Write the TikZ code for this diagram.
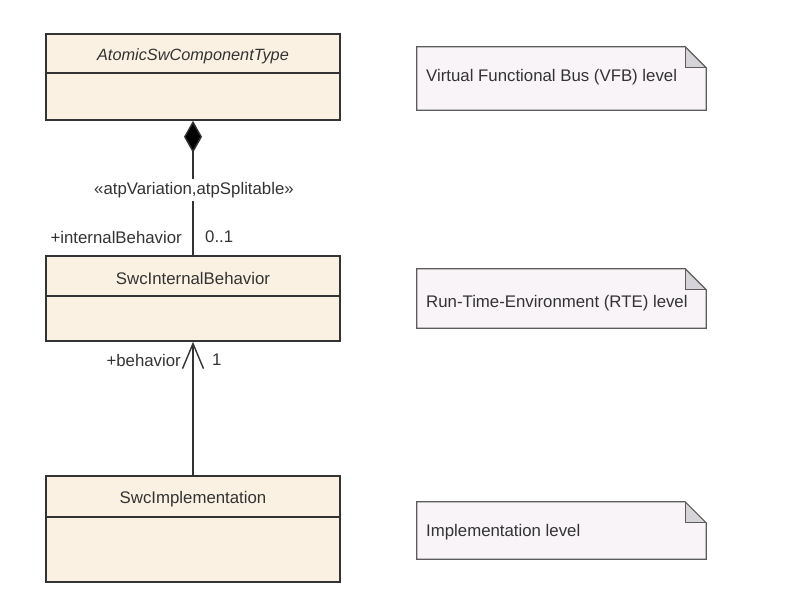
\documentclass[tikz,border=0pt]{standalone}
\usepackage{fontspec}
\setmainfont{Liberation Sans}
\usetikzlibrary{arrows.meta}
\definecolor{classfill}{HTML}{FBF1E3}
\definecolor{notefill}{HTML}{F8F4F8}
\definecolor{foldfill}{HTML}{D6D4D8}
\definecolor{ink}{HTML}{333333}
\definecolor{txt}{HTML}{333333}
\tikzset{
  classbox/.style={draw=ink, line width=1.6pt, fill=classfill, minimum width=294pt, inner sep=0pt},
  notebox/.style={minimum width=289pt, inner sep=0pt},
  lbl/.style={text=txt, font=\fontsize{16.8}{19}\selectfont, inner sep=0pt},
  conn/.style={draw=ink, line width=1.4pt},
}
\begin{document}
\begin{tikzpicture}[x=1pt,y=-1pt]
\useasboundingbox (0,0) rectangle (800,600);
% classes
\node[classbox, minimum height=86pt] (c1) at (193,77) {};
\node[classbox, minimum height=85pt] (c2) at (193,298.5) {};
\node[classbox, minimum height=106pt] (c3) at (193,529) {};
\draw[conn, line width=1.6pt] (c1.west |- 0,73) coordinate (d1a) -- (c1.east |- 0,73) coordinate (d1b);
\draw[conn, line width=1.6pt] (c2.west |- 0,296) coordinate (d2a) -- (c2.east |- 0,296) coordinate (d2b);
\draw[conn, line width=1.6pt] (c3.west |- 0,517) coordinate (d3a) -- (c3.east |- 0,517) coordinate (d3b);
\node[lbl, font=\fontsize{16.3}{19}\selectfont\itshape] (t1) at (193,56) {AtomicSwComponentType};
\node[lbl] (t2) at (193,278) {SwcInternalBehavior};
\node[lbl] (t3) at (193,499) {SwcImplementation};
% composition
\draw[conn, {Diamond[length=32pt,width=18pt,fill=black]}-] (c1.south) -- (c2.north);
\node[lbl, fill=white, inner xsep=2pt, inner ysep=3pt] (st) at (194,190) {«atpVariation,atpSplitable»};
\node[lbl, anchor=east] (r1) at (182,237) {+internalBehavior};
\node[lbl, anchor=west] (m1) at (205,237) {0..1};
% association
\draw[conn, -{Straight Barb[length=25pt,width=21pt,line width=1.4pt]}] (c3.north) -- (c2.south);
\node[lbl, anchor=east] (r2) at (181,360) {+behavior};
\node[lbl, anchor=west] (m2) at (212,360) {1};
% notes
\foreach \n/\y/\h in {n1/78.5/63, n2/298.5/59, n3/530.5/57}{
  \node[notebox, minimum height=\h pt] (\n) at (561.5,\y) {};
  \fill[notefill] (\n.north west) -- ([xshift=-21pt]\n.north east) -- ([yshift=-21pt]\n.north east) -- (\n.south east) -- (\n.south west) -- cycle;
  \fill[foldfill] ([xshift=-21pt]\n.north east) -- ([yshift=-21pt]\n.north east) -- ([xshift=-21pt,yshift=-21pt]\n.north east) -- cycle;
  \draw[draw=ink!80, line width=1.2pt, line join=miter] (\n.north west) -- ([xshift=-21pt]\n.north east) -- ([yshift=-21pt]\n.north east) -- (\n.south east) -- (\n.south west) -- cycle;
  \draw[draw=ink!80, line width=1pt] ([xshift=-21pt]\n.north east) -- ([xshift=-21pt,yshift=-21pt]\n.north east) -- ([yshift=-21pt]\n.north east);
}
\node[lbl, anchor=west] (nt1) at (426,77) {Virtual Functional Bus (VFB) level};
\node[lbl, anchor=west] (nt2) at (426,303) {Run-Time-Environment (RTE) level};
\node[lbl, anchor=west] (nt3) at (426,532) {Implementation level};
\end{tikzpicture}
\end{document}
